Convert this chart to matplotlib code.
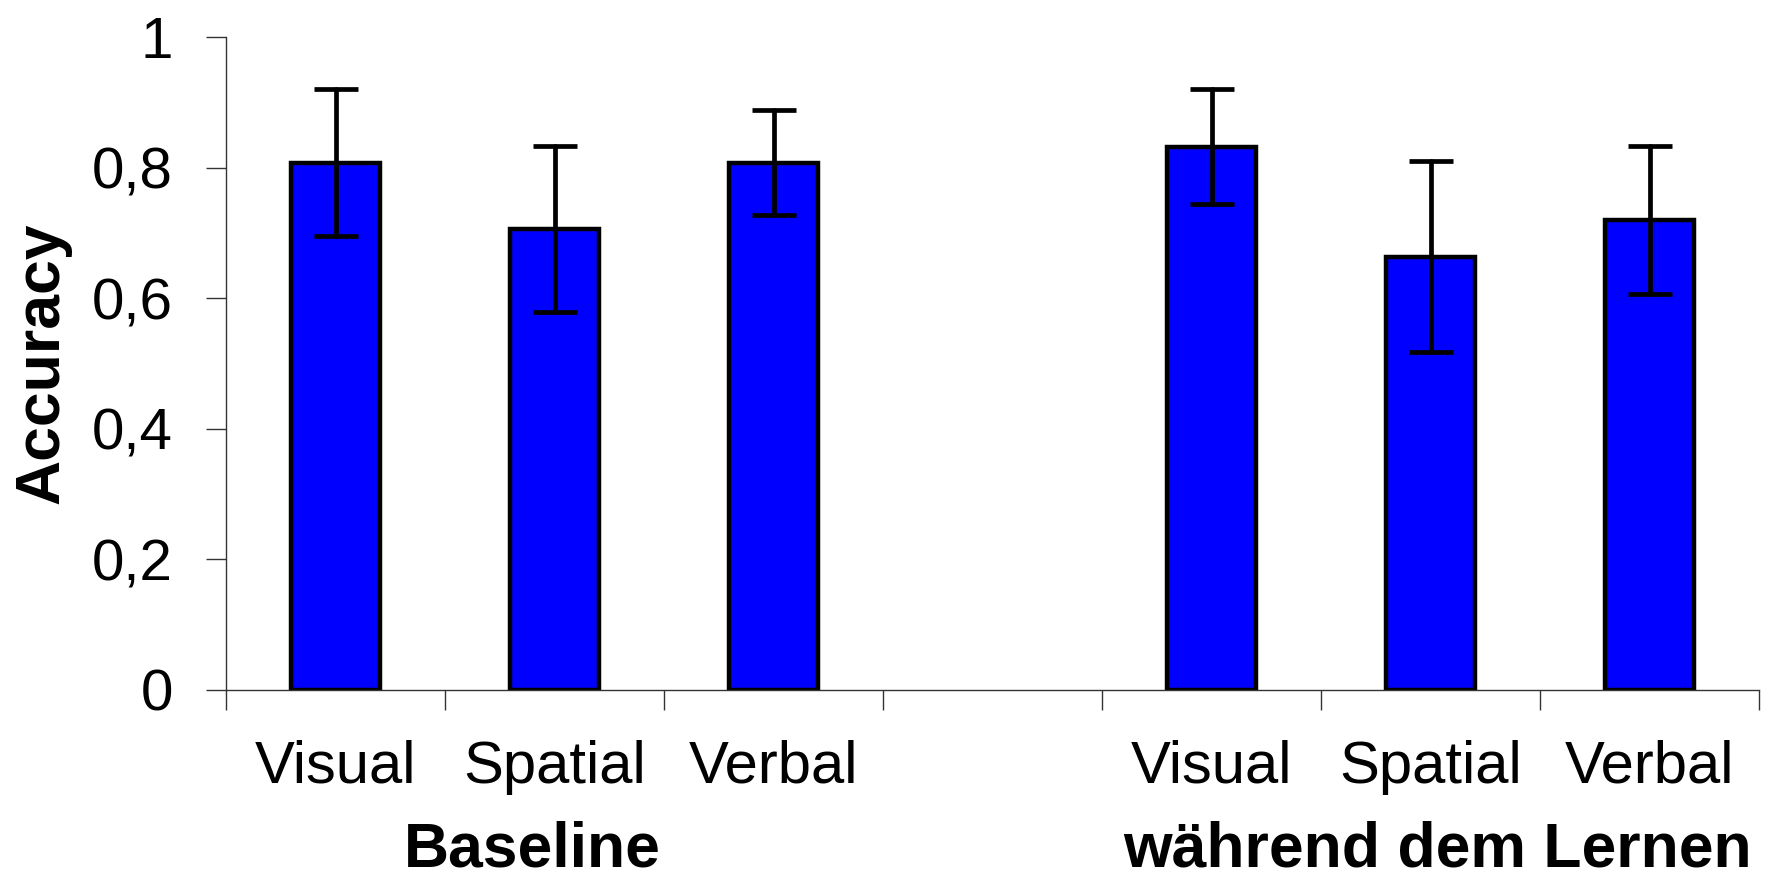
import matplotlib
matplotlib.use("Agg")
import matplotlib.pyplot as plt
import numpy as np

# Accuracy per task type, before and during learning
conditions = ["Visual", "Spatial", "Verbal"]
groups = ["Baseline", "während dem Lernen"]
baseline_acc = [0.808, 0.706, 0.808]
baseline_err = [0.113, 0.127, 0.080]
learning_acc = [0.832, 0.664, 0.720]
learning_err = [0.088, 0.146, 0.114]
yticks = [0, 0.2, 0.4, 0.6, 0.8, 1.0]
ytick_labels = ["0", "0,2", "0,4", "0,6", "0,8", "1"]

plt.rcParams["font.family"] = ["Liberation Sans", "DejaVu Sans"]

fig = plt.figure(figsize=(17.74, 8.81), dpi=100)
ax = fig.add_axes([0.1274, 0.2168, 0.8642, 0.7409])

# slot positions: three bars, one empty slot, three bars
pos_base = np.arange(3)
pos_learn = np.arange(3) + 4
positions = np.concatenate([pos_base, pos_learn])
values = baseline_acc + learning_acc
errors = baseline_err + learning_err

ax.bar(positions, values, width=0.41, color="#0000FF", edgecolor="black",
       linewidth=3.2, zorder=2)
eb = ax.errorbar(positions, values, yerr=errors, fmt="none", ecolor="black",
                 elinewidth=3.4, capsize=15.5, capthick=3.4, zorder=3)
for cap in eb[1]:
    cap.set_solid_capstyle("round")
for ln in eb[2]:
    ln.set_capstyle("round")

ax.set_xlim(-0.5, 6.5)
ax.set_ylim(0, 1)

ax.set_yticks(yticks)
ax.set_yticklabels(ytick_labels)
ax.tick_params(axis="y", length=14.4, width=1, color="#333333", pad=24,
               labelsize=42)

ax.set_xticks(positions)
ax.set_xticklabels(conditions + conditions)
ax.set_xticks(np.arange(8) - 0.5, minor=True)
ax.tick_params(axis="x", which="major", length=0, pad=36, labelsize=43)
ax.tick_params(axis="x", which="minor", length=14.4, width=1, color="#333333")

for side in ("top", "right"):
    ax.spines[side].set_visible(False)
for side in ("left", "bottom"):
    ax.spines[side].set_linewidth(1)
    ax.spines[side].set_color("#333333")

trans = ax.get_xaxis_transform()
ax.text(pos_base.mean() - 0.1, -0.271, groups[0], transform=trans,
        ha="center", va="baseline", fontsize=45, fontweight="bold")
ax.text(pos_learn.mean() + 0.03, -0.271, groups[1], transform=trans,
        ha="center", va="baseline", fontsize=45, fontweight="bold")

ax.text(-0.12, 0.5, "Accuracy", transform=ax.transAxes, rotation=90,
        ha="center", va="center", fontsize=45, fontweight="bold")

fig.savefig("out.png", dpi=100)
